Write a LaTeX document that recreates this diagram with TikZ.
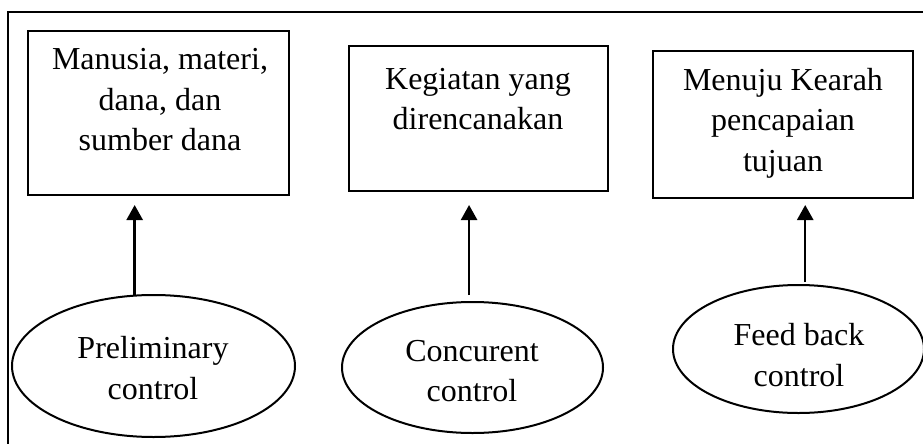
\documentclass[tikz,border=0pt]{standalone}
\usepackage{fontspec}
\setmainfont{Liberation Serif}
\usetikzlibrary{arrows.meta,shapes.geometric,calc}
\begin{document}
\begin{tikzpicture}[x=1pt,y=-1pt,
  box/.style={draw,line width=2pt,rectangle,inner sep=0pt,outer sep=0pt},
  oval/.style={draw,line width=2pt,ellipse,inner sep=0pt,outer sep=0pt},
  lbl/.style={align=center,inner sep=0pt,font=\fontsize{32}{40.5}\selectfont},
  arr/.style={line width=2.5pt,-{Triangle[width=16pt,length=15pt]}}]
\useasboundingbox (0,0) rectangle (923,444);
\clip (0,0) rectangle (923,444);
\draw[line width=2pt] (8,12) rectangle (960,480);
% boxes
\node[box,minimum width=261pt,minimum height=164pt] (b1) at (158.5,113) {};
\node[box,minimum width=259pt,minimum height=145pt] (b2) at (478.5,118.5) {};
\node[box,minimum width=260pt,minimum height=147pt] (b3) at (783,124.5) {};
\node[lbl] (t1) at (160,100) {Manusia, materi,\\dana, dan\\sumber dana};
\node[lbl] (t2) at (478,99) {Kegiatan yang\\direncanakan};
\node[lbl] (t3) at (783,123) {Menuju Kearah\\pencapaian\\tujuan};
% ellipses
\node[oval,minimum width=283pt,minimum height=142pt] (e1) at (153.5,366) {};
\node[oval,minimum width=261pt,minimum height=131pt] (e2) at (472.5,367.5) {};
\node[oval,minimum width=251pt,minimum height=128pt] (e3) at (798.5,349) {};
\node[lbl] (u1) at (153,368) {Preliminary\\control};
\node[lbl] (u2) at (472,371) {Concurent\\control};
\node[lbl] (u3) at (799,355) {Feed back\\control};
% arrows
\draw[arr,shorten >=10pt] (e1.105.5) -- (e1.105.5 |- b1.south);
\draw[arr,shorten <=7pt,shorten >=14pt] (e2.93) -- (e2.93 |- b2.south);
\draw[arr,shorten <=3pt,shorten >=7pt] (e3.84) -- (e3.84 |- b3.south);
\end{tikzpicture}
\end{document}
